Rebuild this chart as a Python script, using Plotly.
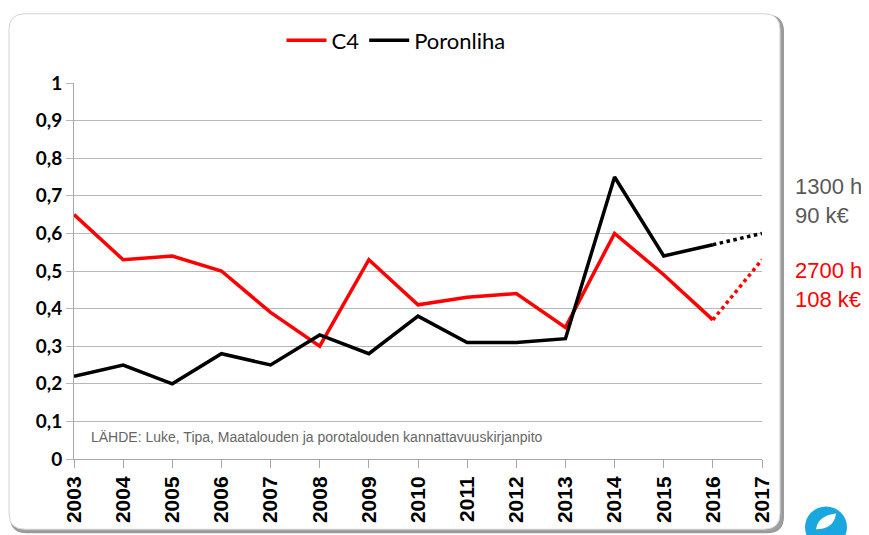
import plotly.graph_objects as go

years = [str(y) for y in range(2003, 2018)]
c4 = [0.65, 0.53, 0.54, 0.50, 0.39, 0.30, 0.53, 0.41, 0.43, 0.44, 0.35, 0.60, 0.49, 0.37]
poronliha = [0.22, 0.25, 0.20, 0.28, 0.25, 0.33, 0.28, 0.38, 0.31, 0.31, 0.32, 0.75, 0.54, 0.57]
c4_forecast = [0.37, 0.53]
poronliha_forecast = [0.57, 0.60]
forecast_years = ["2016", "2017"]
y_ticks = [0, 0.1, 0.2, 0.3, 0.4, 0.5, 0.6, 0.7, 0.8, 0.9, 1]
y_ticktext = ["0", "0,1", "0,2", "0,3", "0,4", "0,5", "0,6", "0,7", "0,8", "0,9", "1"]

RED = "#ff0000"
BLACK = "#000000"
ARIAL = "Arial, 'Liberation Sans', sans-serif"

fig = go.Figure()
fig.add_trace(go.Scatter(x=years[:len(c4)], y=c4, mode="lines", name="C4",
                         line=dict(color=RED, width=3.5)))
fig.add_trace(go.Scatter(x=years[:len(poronliha)], y=poronliha, mode="lines", name="Poronliha",
                         line=dict(color=BLACK, width=3.5)))
fig.add_trace(go.Scatter(x=forecast_years, y=c4_forecast, mode="lines", showlegend=False,
                         line=dict(color=RED, width=3.5, dash="dot")))
fig.add_trace(go.Scatter(x=forecast_years, y=poronliha_forecast, mode="lines", showlegend=False,
                         line=dict(color=BLACK, width=3.5, dash="dot")))

# page has an 8px body margin; work in page pixel coordinates
OFF = 8
W, H = 869 - OFF, 535 - OFF
PL, PR, PT, PB = 74, 762, 79, 459  # plot area in page pixels
L, T = PL - OFF, PT - OFF
R, B = W - (PR - OFF), H - (PB - OFF)
pw, ph = PR - PL, PB - PT

def px(x):
    return (x - PL) / pw

def py(y):
    return (PB - y) / ph

def rounded_box(x0, y0, x1, y1, r):
    rx, ry = r / pw, r / ph
    X0, X1 = px(x0), px(x1)
    Y0, Y1 = py(y0), py(y1)
    return (f"M {X0+rx} {Y0} L {X1-rx} {Y0} Q {X1} {Y0} {X1} {Y0-ry} "
            f"L {X1} {Y1+ry} Q {X1} {Y1} {X1-rx} {Y1} "
            f"L {X0+rx} {Y1} Q {X0} {Y1} {X0} {Y1+ry} "
            f"L {X0} {Y0-ry} Q {X0} {Y0} {X0+rx} {Y0} Z")

leaf = (f"M {px(816)} {py(530)} Q {px(818)} {py(516)} {px(836)} {py(514)} "
        f"Q {px(834)} {py(530)} {px(816)} {py(530)} Z")

shapes = [
    dict(type="path", xref="paper", yref="paper", path=rounded_box(11, 11, 783, 533, 16),
         line=dict(color="#9a9a9a", width=2), fillcolor="#a0a0a0", layer="below"),
    dict(type="path", xref="paper", yref="paper", path=rounded_box(9, 9, 780, 530, 16),
         line=dict(color="#d4d4d4", width=1), fillcolor="white", layer="below"),
    dict(type="circle", xref="paper", yref="paper",
         x0=px(805), x1=px(847), y0=py(549), y1=py(507),
         line=dict(color="#1aa6de", width=0), fillcolor="#1aa6de"),
    dict(type="path", xref="paper", yref="paper", path=leaf,
         line=dict(color="white", width=0), fillcolor="white"),
]

fig.update_layout(
    width=W, height=H,
    margin=dict(l=L, r=R, t=T, b=B),
    paper_bgcolor="white", plot_bgcolor="rgba(0,0,0,0)",
    shapes=shapes,
    showlegend=True,
    legend=dict(orientation="h", x=px(396), y=py(36), xanchor="center", yanchor="middle",
                font=dict(family="Lato, 'Open Sans', sans-serif", size=22, color="black"),
                bgcolor="rgba(0,0,0,0)", itemwidth=40, tracegroupgap=0),
    xaxis=dict(type="category", range=[0, len(years) - 1], tickangle=-90,
               showgrid=False, showline=True, linecolor="#a6a6a6", linewidth=1,
               ticks="outside", ticklen=8, tickcolor="#a6a6a6",
               tickfont=dict(family=ARIAL, size=21, color="black", weight="bold"),
               categoryarray=years, categoryorder="array"),
    yaxis=dict(range=[0, 1], tickvals=y_ticks, ticktext=y_ticktext,
               showgrid=True, gridcolor="#b8b8b8", gridwidth=1,
               showline=True, linecolor="#a6a6a6", linewidth=1,
               ticks="outside", ticklen=7, tickcolor="#b8b8b8",
               tickfont=dict(family="Lato, 'Open Sans', sans-serif", size=19, color="black",
                             weight="bold"),
               zeroline=False),
    annotations=[
        dict(xref="paper", yref="paper", x=px(89), y=py(437), xanchor="left", yanchor="middle",
             text="LÄHDE: Luke, Tipa, Maatalouden ja porotalouden kannattavuuskirjanpito",
             showarrow=False, font=dict(family=ARIAL, size=14, color="#666666")),
        dict(xref="paper", yref="paper", x=px(793), y=py(198), xanchor="left", yanchor="middle",
             text="1300 h<br>90 k€", align="left", showarrow=False,
             font=dict(family=ARIAL, size=22, color="#595959")),
        dict(xref="paper", yref="paper", x=px(793), y=py(283), xanchor="left", yanchor="middle",
             text="2700 h<br>108 k€", align="left", showarrow=False,
             font=dict(family=ARIAL, size=22, color=RED)),
    ],
)

fig.write_html("out.html")
